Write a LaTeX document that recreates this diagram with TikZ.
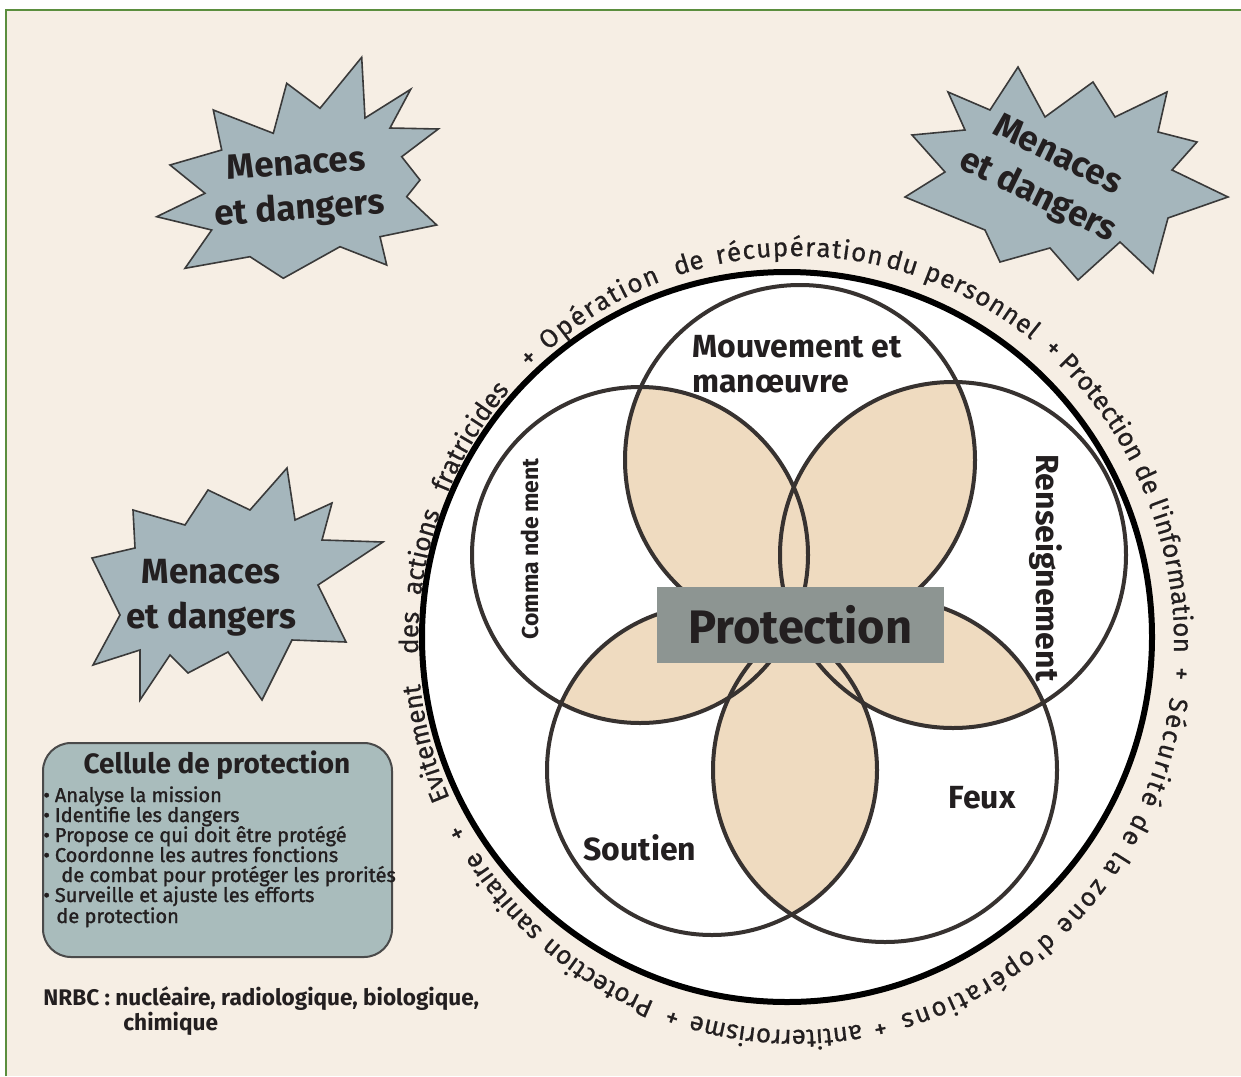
\documentclass[tikz,border=0pt]{standalone}
\usepackage{fontspec}
\setmainfont{Fira Sans}
\newfontfamily\medfont[FakeBold=0.6]{Fira Sans}
\newfontfamily\itemfam[FakeBold=1.4]{Fira Sans}
\usetikzlibrary{decorations.text,calc}
\definecolor{bgcream}{HTML}{F6EEE4}
\definecolor{tanfill}{HTML}{EFDBC0}
\definecolor{starfill}{HTML}{A5B6BC}
\definecolor{stardraw}{HTML}{3A3A3A}
\definecolor{cellfill}{HTML}{A9BCBC}
\definecolor{celldraw}{HTML}{4A4A4A}
\definecolor{protbox}{HTML}{8D9592}
\definecolor{ringline}{HTML}{373230}
\definecolor{framegreen}{HTML}{5B8E3E}
\definecolor{txt}{HTML}{231F20}
\newcommand\menacefont{\fontsize{17.5pt}{22.5pt}\selectfont\bfseries}
\newcommand\lblfont{\fontsize{16pt}{18pt}\selectfont\bfseries}
\newcommand\protfont{\fontsize{23.5pt}{27pt}\selectfont\bfseries}
\newcommand\cmdfont{\fontsize{11.5pt}{14pt}\selectfont\bfseries}
\newcommand\celltitlefont{\fontsize{14pt}{17pt}\selectfont\bfseries}
\newcommand\itemfont{\itemfam\fontsize{10pt}{12pt}\selectfont}
\newcommand\nrbcfont{\fontsize{11.3pt}{13pt}\selectfont\bfseries}
\newcommand\ringfont{\medfont\fontsize{13pt}{15pt}\selectfont}
\newcommand\ringword[2]{\path[decorate,decoration={text along path,text align=center,text color=txt,text={|\ringfont|#2}}] ($(rc)+({#1+40}:378 and 387)$) arc[start angle={#1+40},end angle={#1-40},x radius=378,y radius=387];}
\newcommand\ringfit[3]{\path[decorate,decoration={text along path,text align={fit to path},text color=txt,text={|\ringfont|#3}}] ($(rc)+({#1}:378 and 387)$) arc[start angle={#1},end angle={#2},x radius=378,y radius=387];}
\begin{document}
\begin{tikzpicture}[x=0.5pt,y=0.5pt,
  petal/.style={draw=ringline,line width=2pt},
  menace/.style={align=center,font=\menacefont,text=txt,inner sep=0pt},
  lbl/.style={font=\lblfont,text=txt,inner sep=0pt},
  item/.style={anchor=base west,font=\itemfont,text=txt,inner sep=0pt},
  star/.style={fill=starfill,draw=stardraw,line width=0.8pt,line join=miter},
]
\useasboundingbox (0,0) rectangle (1241,-1076);
\fill[white] (0,0) rectangle (1241,-1076);
\fill[bgcream] (6,-10) rectangle (1241,-1076);
\draw[framegreen,line width=1pt] (6,-1076) -- (6,-10) -- (1241,-10);

% main circle
\coordinate (oc) at (787,-637);
\coordinate (rc) at (796,-643);
\fill[white] (oc) circle[radius=365];
\coordinate (cT) at (800,-460);
\coordinate (cL) at (640,-555);
\coordinate (cR) at (953,-555);
\coordinate (cS) at (712,-770);
\coordinate (cF) at (885,-770);
\foreach \a/\ra/\b/\rb in {cT/175/cL/168, cT/175/cR/173, cL/168/cS/165, cR/173/cF/172, cS/165/cF/172, cL/168/cR/173, cT/175/cS/165, cT/175/cF/172, cL/168/cF/172, cR/173/cS/165}{
  \begin{scope}\clip (\a) circle[radius=\ra]; \fill[tanfill] (\b) circle[radius=\rb];\end{scope}
}
\draw[petal] (cT) circle[radius=175];
\draw[petal] (cL) circle[radius=168];
\draw[petal] (cR) circle[radius=173];
\draw[petal] (cS) circle[radius=165];
\draw[petal] (cF) circle[radius=172];
\draw[black,line width=3pt] (oc) circle[radius=365];

\node[fill=protbox,minimum width=143.5pt,minimum height=38pt,inner sep=0pt,font=\protfont,text=txt] (prot) at (800.5,-625) {Protection};

\node[lbl,anchor=base west] (mvt1) at (692,-357) {Mouvement et};
\node[lbl,anchor=base west] (mvt2) at (692,-392) {manœuvre};
\node[lbl,rotate=-90] (rens) at (1046,-568) {Renseignement};
\node[font=\cmdfont,text=txt,inner sep=0pt,rotate=90] (cmd) at (530,-549) {Comma nde\,ment};
\node[lbl] (sout) at (640,-848) {Soutien};
\node[lbl] (feux) at (982,-798) {Feux};

% ring text
\ringword{195}{Evitement}
\ringword{178.5}{des}
\ringword{166.5}{actions}
\ringword{148}{fratricides}
\ringword{133.5}{+}
\ringfit{131}{111}{Opération}
\ringword{106}{de}
\ringfit{102}{77}{récupération}
\ringfit{76.4}{51.5}{du personnel}
\ringword{48.5}{+}
\ringword{22.5}{Protection de l'information}
\ringword{-4.5}{+}
\ringfit{-8}{-74}{Sécurité de la zone d'opérations}
\ringword{-77.5}{+}
\ringword{-93}{antiterrorisme}
\ringword{-108.5}{+}
\ringword{-121}{Protection}
\ringword{-139.5}{sanitaire}
\ringword{-151}{+}

% stars
\draw[star] (361.7,-57.3) -- (365,-118) -- (410.7,-89.3) -- (390,-128) -- (438.3,-129) -- (401.7,-156.7) -- (420,-180) -- (406.7,-196.7) -- (436.7,-225) -- (380,-236.7) -- (386.7,-265) -- (340,-246.7) -- (283.3,-278.3) -- (250,-256.7) -- (185,-268.3) -- (211.7,-230) -- (156.7,-216.7) -- (205,-193.3) -- (170,-165) -- (221.7,-150) -- (213.3,-110) -- (273.3,-133.3) -- (286.7,-83.3) -- (320,-108.3) -- cycle;
\node[menace,rotate=4] (men1) at (298,-189) {Menaces\\et dangers};

\draw[star] (1018,-67) -- (1045,-117) -- (1093,-82) -- (1115,-117) -- (1167,-92) -- (1158,-132) -- (1197,-142) -- (1172,-170) -- (1228,-197) -- (1168,-218) -- (1153,-273) -- (1120,-242) -- (1078,-280) -- (1050,-248) -- (1000,-262) -- (985,-230) -- (905,-197) -- (945,-172) -- (912,-135) -- (965,-130) -- (948,-92) -- (990,-110) -- cycle;
\node[menace,rotate=-26] (men2) at (1047,-177) {Menaces\\et dangers};

\draw[star] (287,-468) -- (295,-520) -- (332,-503) -- (322,-540) -- (383,-542) -- (318,-585) -- (346,-642) -- (292,-640) -- (262,-700) -- (228,-652) -- (188,-673) -- (170,-655) -- (140,-700) -- (140,-650) -- (93,-665) -- (120,-615) -- (92,-558) -- (135,-548) -- (133,-510) -- (185,-525) -- (208,-490) -- (250,-510) -- cycle;
\node[menace] (men3) at (211,-598) {Menaces\\et dangers};

% cellule
\node[draw=celldraw,fill=cellfill,line width=1pt,rounded corners=14pt,minimum width=174.5pt,minimum height=107pt] (cellbox) at (217.5,-850) {};
\node[anchor=base,font=\celltitlefont,text=txt,inner sep=0pt] (celltitle) at (217,-773) {Cellule de protection};
\node[item] (it1) at (43,-802) {•\hspace{2.5pt}Analyse la mission};
\node[item] (it2) at (43,-822) {•\hspace{2.5pt}Identifie les dangers};
\node[item] (it3) at (43,-842) {•\hspace{2.5pt}Propose ce qui doit être protégé};
\node[item] (it4) at (43,-862) {•\hspace{2.5pt}Coordonne les autres fonctions};
\node[item] (it5) at (61,-882) {de combat pour protéger les prorités};
\node[item] (it6) at (43,-902) {•\hspace{2.5pt}Surveille et ajuste les efforts};
\node[item] (it7) at (56,-923) {de protection};

\node[anchor=base west,font=\nrbcfont,text=txt,inner sep=0pt] (nrbc1) at (43,-1005) {NRBC : nucléaire, radiologique, biologique,};
\node[anchor=base west,font=\nrbcfont,text=txt,inner sep=0pt] (nrbc2) at (123,-1030) {chimique};
\end{tikzpicture}
\end{document}
